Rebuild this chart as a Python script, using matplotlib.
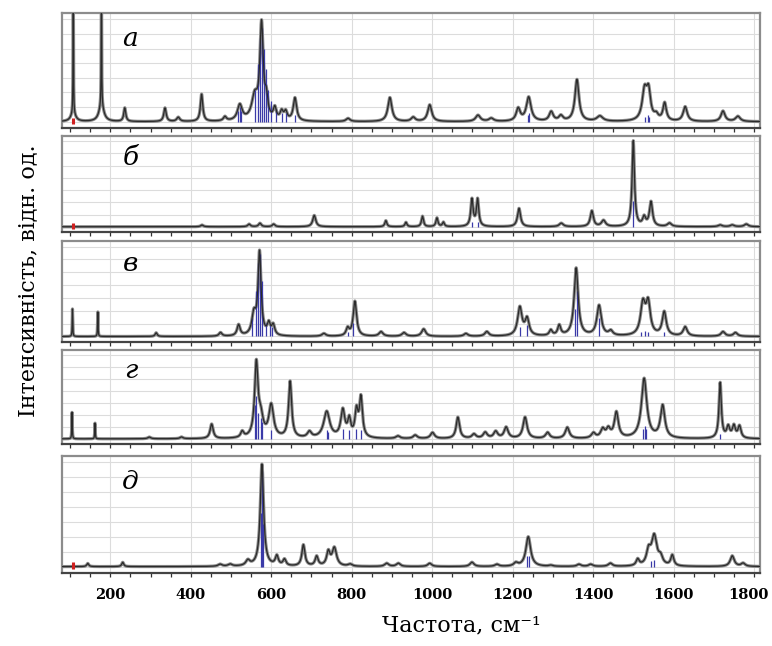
import numpy as np
import matplotlib
matplotlib.use("Agg")
import matplotlib.pyplot as plt
import matplotlib.transforms as mtransforms
from matplotlib.ticker import MultipleLocator

# ─────────────────────────────────
# PEAK DATA (position cm-1, relative height, half width)
# ─────────────────────────────────
pos_a = [108, 108, 178, 178, 236, 336, 369, 427, 485, 522, 559, 576, 588, 609, 626, 636, 659,
         791, 895, 953, 994, 1114, 1147, 1214, 1240, 1296, 1320, 1360, 1417, 1528, 1538,
         1557, 1578, 1629, 1723, 1760]
amp_a = [1.3, 0.08, 1.3, 0.16, 0.13, 0.13, 0.04, 0.26, 0.04, 0.15, 0.22, 0.9, 0.17, 0.11,
         0.08, 0.08, 0.22, 0.03, 0.23, 0.04, 0.16, 0.06, 0.03, 0.12, 0.23, 0.09, 0.05, 0.4,
         0.05, 0.28, 0.26, 0.05, 0.17, 0.14, 0.1, 0.05]
wid_a = [0.6, 7, 0.6, 7, 3, 3.5, 4.5, 3.5, 4.5, 7, 9, 5, 4.5, 4.5, 4.5, 4.5, 5,
         6, 6, 6, 6, 7, 7, 6, 7, 6, 6, 6, 9, 7, 6, 6, 5, 6, 6, 7]

pos_b = [428, 545, 572, 606, 707, 885, 935, 976, 1012, 1028, 1099, 1113, 1216, 1321, 1397,
         1426, 1500, 1527, 1544, 1590, 1716, 1746, 1781]
amp_b = [0.02, 0.03, 0.04, 0.03, 0.13, 0.07, 0.05, 0.12, 0.1, 0.05, 0.31, 0.31, 0.21, 0.04,
         0.18, 0.07, 0.98, 0.1, 0.28, 0.04, 0.02, 0.02, 0.03]
wid_b = [4, 4, 4, 4, 4.5, 3, 3, 3, 3, 3, 3.5, 3.5, 4.5, 6, 4.5, 6, 3.5, 4.5, 4.5, 6, 6, 6, 6]

pos_c = [106, 169, 314, 474, 519, 557, 571, 594, 605, 731, 790, 808, 873, 930, 979, 1084,
         1136, 1218, 1236, 1295, 1316, 1358, 1415, 1444, 1524, 1537, 1577, 1629, 1723, 1754]
amp_c = [0.3, 0.27, 0.04, 0.04, 0.12, 0.22, 0.9, 0.12, 0.11, 0.03, 0.08, 0.38, 0.05, 0.04,
         0.08, 0.03, 0.05, 0.31, 0.18, 0.06, 0.11, 0.74, 0.33, 0.05, 0.34, 0.34, 0.26, 0.1,
         0.05, 0.04]
wid_c = [0.7, 0.7, 3, 4.5, 4.5, 6, 4.5, 4.5, 4.5, 6, 4.5, 5, 6, 6, 6, 6,
         6, 6.5, 6, 4.5, 4.5, 6, 6.5, 6, 7, 6.5, 6, 6, 6, 6]

pos_d = [105, 162, 297, 377, 452, 528, 563, 574, 600, 647, 695, 738, 778, 794, 812, 823, 915,
         958, 1001, 1064, 1104, 1132, 1158, 1184, 1231, 1287, 1336, 1401, 1424, 1438, 1458,
         1527, 1573, 1716, 1736, 1750, 1764]
amp_d = [0.32, 0.19, 0.02, 0.02, 0.17, 0.07, 0.85, 0.22, 0.38, 0.66, 0.07, 0.31, 0.32, 0.2,
         0.3, 0.46, 0.03, 0.04, 0.07, 0.25, 0.05, 0.07, 0.08, 0.13, 0.25, 0.07, 0.13, 0.06,
         0.1, 0.1, 0.3, 0.7, 0.38, 0.65, 0.13, 0.14, 0.14]
wid_d = [0.7, 0.7, 4.5, 4.5, 4.5, 4.5, 5, 7, 7, 4.5, 6, 9, 6, 4.5, 4.5, 4.5, 6,
         6, 6, 5, 6, 6, 6, 6, 6, 6, 6, 6, 6, 6, 6, 8, 6.5, 3.5, 4.5, 4.5, 4.5]

pos_e = [144, 231, 473, 498, 542, 577, 614, 633, 680, 713, 742, 757, 796, 887, 916, 994,
         1099, 1161, 1208, 1239, 1295, 1365, 1394, 1443, 1511, 1538, 1552, 1568, 1597, 1746,
         1773]
amp_e = [0.03, 0.04, 0.02, 0.02, 0.05, 0.96, 0.09, 0.06, 0.2, 0.09, 0.13, 0.17, 0.02, 0.03,
         0.03, 0.03, 0.04, 0.02, 0.03, 0.28, 0.01, 0.02, 0.02, 0.03, 0.06, 0.13, 0.28, 0.07,
         0.1, 0.1, 0.03]
wid_e = [3, 3, 6, 6, 6, 5, 4.5, 4.5, 4.5, 4.5, 5, 6.5, 6, 6, 6, 6,
         6, 6, 6, 7, 6, 6, 6, 6, 4.5, 6, 8, 6, 4.5, 6, 6]

# calculated line positions (blue sticks)
stick_x_a = [518, 522, 526, 559, 566, 571, 576, 581, 586, 592, 600, 612, 626, 636, 659,
             1238, 1242, 1530, 1536, 1540]
stick_h_a = [0.1, 0.14, 0.1, 0.3, 0.55, 0.8, 0.9, 0.7, 0.5, 0.3, 0.2, 0.12, 0.08, 0.08, 0.06,
             0.06, 0.08, 0.05, 0.06, 0.05]
stick_x_b = [1099, 1113, 1500]
stick_h_b = [0.05, 0.05, 0.3]
stick_x_c = [553, 562, 567, 571, 576, 588, 596, 603, 790, 804, 1218, 1236, 1356, 1360, 1415,
             1520, 1528, 1536, 1577]
stick_h_c = [0.2, 0.5, 0.8, 0.9, 0.6, 0.15, 0.12, 0.1, 0.05, 0.15, 0.1, 0.12, 0.3, 0.5, 0.2,
             0.05, 0.06, 0.05, 0.05]
stick_x_d = [559, 563, 568, 574, 578, 600, 738, 742, 778, 794, 812, 823, 1524, 1528, 1532,
             1716]
stick_h_d = [0.4, 0.5, 0.3, 0.25, 0.2, 0.1, 0.1, 0.08, 0.12, 0.1, 0.12, 0.1, 0.12, 0.15, 0.12,
             0.06]
stick_x_e = [575, 577, 580, 1237, 1241, 1545, 1552]
stick_h_e = [0.5, 0.9, 0.4, 0.1, 0.1, 0.05, 0.06]

red_marks = [108, 108, None, None, 108]
labels = ["а", "б", "в", "г", "д"]
tick_values = [200, 400, 600, 800, 1000, 1200, 1400, 1600, 1800]

panels = [
    (pos_a, amp_a, wid_a, stick_x_a, stick_h_a),
    (pos_b, amp_b, wid_b, stick_x_b, stick_h_b),
    (pos_c, amp_c, wid_c, stick_x_c, stick_h_c),
    (pos_d, amp_d, wid_d, stick_x_d, stick_h_d),
    (pos_e, amp_e, wid_e, stick_x_e, stick_h_e),
]

# ─────────────────────────────────
# LAYOUT (pixel boxes of each panel)
# ─────────────────────────────────
W, H = 772, 646
boxes = [(13, 128), (136, 232), (241, 342), (350, 444), (456, 573)]
left_px, right_px = 62, 760

fig = plt.figure(figsize=(W / 100, H / 100), dpi=100)
fig.patch.set_facecolor('white')

x = np.linspace(80, 1815, 6000)

for i, (top, bot) in enumerate(boxes):
    pos, amp, wid, sx, sh = panels[i]
    ax = fig.add_axes([left_px / W, 1 - bot / H, (right_px - left_px) / W, (bot - top) / H])

    y = np.zeros_like(x)
    for p, a, w in zip(pos, amp, wid):
        y += a * w**2 / ((x - p)**2 + w**2)

    ax.vlines(sx, 0, sh, color='#3a3aa8', linewidth=0.9, zorder=3)
    ax.plot(x, y, color='#8a8a8a', linewidth=2.3, zorder=2)
    ax.plot(x, y, color='#2a2a2a', linewidth=0.9, zorder=4)
    if red_marks[i] is not None:
        ax.vlines(red_marks[i], -0.02, 0.04, color='#d02020', linewidth=2.2, zorder=5)

    ax.set_xlim(80, 1815)
    ax.set_ylim(-0.06, 1.04)
    ax.set_yticks(np.arange(0.0, 1.0, 0.14))
    ax.set_xticks(tick_values)
    ax.xaxis.set_minor_locator(MultipleLocator(50))
    ax.grid(True, which='major', color='#dcdcdc', linewidth=0.8, zorder=0)
    ax.tick_params(axis='y', left=False, labelleft=False)
    ax.tick_params(axis='x', which='both', direction='out', length=3, width=0.9,
                   color='#333333', labelbottom=(i == 4))
    ax.tick_params(axis='x', which='major', length=3, pad=8)
    for s in ax.spines.values():
        s.set_color('#8c8c8c')
        s.set_linewidth(1.6)
    ax.spines['bottom'].set_color('#444444')

    if i == 4:
        for lab in ax.get_xticklabels():
            lab.set_fontfamily('DejaVu Serif')
            lab.set_fontweight('bold')
            lab.set_fontsize(10.5)
        last = ax.get_xticklabels()[-1]
        last.set_transform(last.get_transform() +
                           mtransforms.ScaledTranslation(-6 / 100, 0, fig.dpi_scale_trans))

    ax.text(0.098, 0.78, labels[i], transform=ax.transAxes, fontsize=19,
            fontstyle='italic', family='DejaVu Serif', ha='center', va='center')

fig.text(0.598, 0.032, "Частота, см⁻¹", family='DejaVu Serif', fontsize=16,
         ha='center', va='center')
fig.text(0.036, 0.565, "Інтенсивність, відн. од.", family='DejaVu Serif', fontsize=16,
         rotation=90, ha='center', va='center')

plt.savefig('out.png', dpi=100, facecolor='white')
